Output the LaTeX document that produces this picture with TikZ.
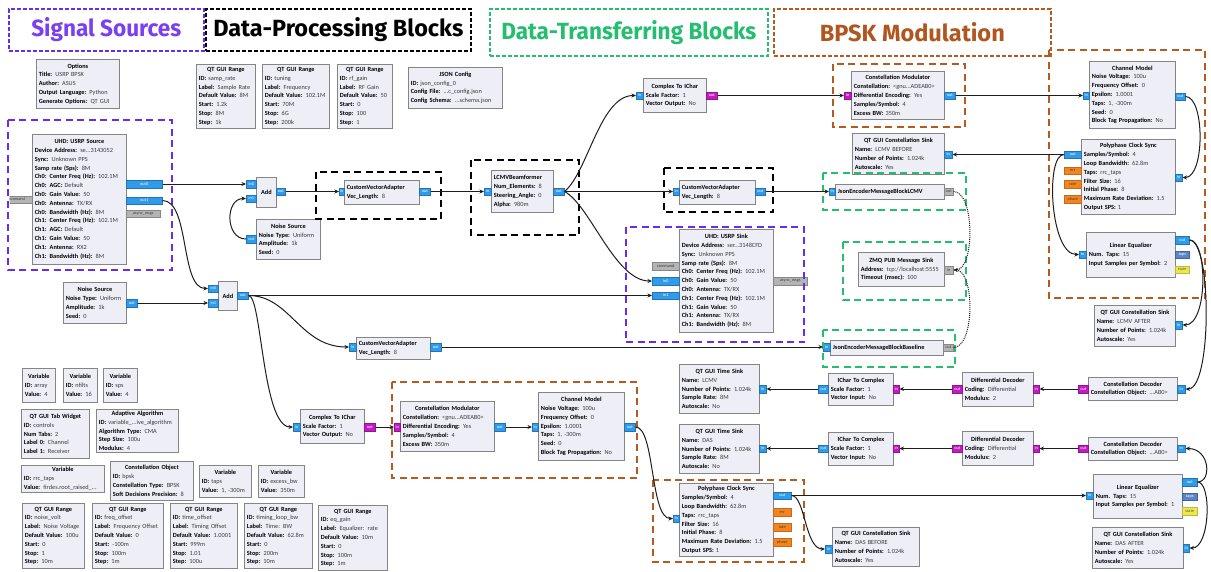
\documentclass[tikz,border=0pt]{standalone}
\usepackage{fontspec}
\usepackage{graphicx}
\setmainfont{Carlito}
\newfontfamily\legendfont{Fira Sans}
\usetikzlibrary{arrows.meta}

\definecolor{blockfill}{HTML}{EEEEF6}
\definecolor{blockedge}{HTML}{858585}
\definecolor{valtext}{HTML}{3A3A3A}
\definecolor{portblue}{HTML}{2F9BEA}
\definecolor{portmag}{HTML}{C21BC2}
\definecolor{portorange}{HTML}{F5841F}
\definecolor{portyellow}{HTML}{EDE84A}
\definecolor{portgrey}{HTML}{B4B4B4}
\definecolor{porttaps}{HTML}{5A86C5}
\definecolor{grppurple}{HTML}{6A2CEB}
\definecolor{grpgreen}{HTML}{22C06C}
\definecolor{grpbrown}{HTML}{B65A1E}
\definecolor{txtpurple}{HTML}{7B3FF2}
\definecolor{txtgreen}{HTML}{23BE6E}
\definecolor{txtbrown}{HTML}{B0561E}
\definecolor{wirecol}{HTML}{1E1E1E}

\newcommand{\blkfont}{\fontsize{6.3}{8.8}\selectfont}
\newcommand{\portfont}{\fontsize{4.3}{5}\selectfont}
\newcommand{\ttl}[1]{\makebox[\linewidth]{\bfseries #1}}
\newcommand{\kv}[2]{\mbox{\textbf{#1:} \textcolor{valtext}{#2}}}
% block: name, left x, top y, width, height, body
\newcommand{\blk}[6]{\node[blk, minimum width=#4pt, minimum height=#5pt, text width=#4pt-5pt] (#1) at (#2,#3) {#6};}
% port: name, style, left x, right x, centre y, label
\newcommand{\prt}[6]{\node[prt, #2, minimum width=#4pt-#3pt] (#1) at (#3,#5) {#6};}
% legend box: name, colour, text colour, left x, top y, width, height, text width, text
\newcommand{\lgd}[9]{\node[lgd, draw=#2, minimum width=#6pt, minimum height=#7pt] (#1) at (#4,#5) {\resizebox{#8pt}{19pt}{\legendfont\bfseries\color{#3}#9}};}

\tikzset{
  blk/.style={draw=blockedge, fill=blockfill, line width=0.8pt, anchor=north west,
    inner xsep=2.5pt, inner ysep=0pt, align=left, font=\blkfont},
  prt/.style={anchor=west, minimum height=7.5pt, inner sep=0pt, font=\portfont, line width=0.5pt},
  pblue/.style={fill=portblue, draw=portblue!75!black, text=white},
  pmag/.style={fill=portmag, draw=portmag!75!black, text=white},
  porange/.style={fill=portorange, draw=portorange!80!black, text=black!75},
  pyellow/.style={fill=portyellow, draw=portyellow!80!black, text=black!65},
  pgrey/.style={fill=portgrey, draw=portgrey!75!black, text=black!75},
  ptaps/.style={fill=porttaps, draw=porttaps!75!black, text=white},
  wire/.style={draw=wirecol, line width=1pt, -{Stealth[length=4.5pt,width=4pt]}},
  msgwire/.style={draw=wirecol, line width=1pt, densely dotted, -{Stealth[length=4pt,width=3.5pt]}},
  grp/.style={line width=2.3pt, dash pattern=on 7pt off 4.5pt},
  lgd/.style={line width=1.6pt, dash pattern=on 4pt off 2pt, anchor=north west, inner sep=0pt},
}

\begin{document}
\begin{tikzpicture}[x=1pt,y=-1pt]
\fill[white] (0,0) rectangle (1211,571);
\useasboundingbox (0,0) rectangle (1211,571);

% ---------- legend ----------
\lgd{lg-src}{grppurple}{txtpurple}{8}{8}{195}{42}{150}{Signal Sources}
\lgd{lg-proc}{black}{black}{205}{8}{265}{42}{250}{Data-Processing Blocks}
\lgd{lg-xfer}{grpgreen}{txtgreen}{489}{8}{278}{47}{255}{Data-Transferring Blocks}
\lgd{lg-bpsk}{grpbrown}{txtbrown}{773}{8}{277}{47}{185}{BPSK Modulation}

% ---------- option / variable blocks ----------
\blk{options}{36}{59}{83}{49}{\ttl{Options}\\\kv{Title}{USRP BPSK}\\\kv{Author}{ASUS}\\\kv{Output Language}{Python}\\\kv{Generate Options}{QT GUI}}
\blk{rngsamp}{196}{64}{59}{64}{\ttl{QT GUI Range}\\\kv{ID}{samp\_rate}\\\kv{Label}{Sample Rate}\\\kv{Default Value}{8M}\\\kv{Start}{1.2k}\\\kv{Stop}{8M}\\\kv{Step}{1k}}
\blk{rngtune}{262}{64}{67}{64}{\ttl{QT GUI Range}\\\kv{ID}{tuning}\\\kv{Label}{Frequency}\\\kv{Default Value}{102.1M}\\\kv{Start}{70M}\\\kv{Stop}{6G}\\\kv{Step}{200k}}
\blk{rngrf}{337}{64}{55}{64}{\ttl{QT GUI Range}\\\kv{ID}{rf\_gain}\\\kv{Label}{RF Gain}\\\kv{Default Value}{50}\\\kv{Start}{0}\\\kv{Stop}{100}\\\kv{Step}{1}}
\blk{jsoncfg}{408}{67}{94}{41}{\ttl{JSON Config}\\\kv{ID}{json\_config\_0}\\\kv{Config File}{...c\_config.json}\\\kv{Config Schema}{...schema.json}}

\blk{vararray}{22}{368}{33}{34}{\ttl{Variable}\\\kv{ID}{array}\\\kv{Value}{4}}
\blk{varnfilts}{63}{368}{34}{34}{\ttl{Variable}\\\kv{ID}{nfilts}\\\kv{Value}{16}}
\blk{varsps}{103}{368}{34}{34}{\ttl{Variable}\\\kv{ID}{sps}\\\kv{Value}{4}}
\blk{tabw}{21}{409}{68}{49}{\ttl{QT GUI Tab Widget}\\\kv{ID}{controls}\\\kv{Num Tabs}{2}\\\kv{Label 0}{Channel}\\\kv{Label 1}{Receiver}}
\blk{adapt}{96}{409}{82}{43}{\ttl{Adaptive Algorithm}\\\kv{ID}{variable\_...ive\_algorithm}\\\kv{Algorithm Type}{CMA}\\\kv{Step Size}{100u}\\\kv{Modulus}{4}}
\blk{varrrc}{21}{465}{83}{27}{\ttl{Variable}\\\kv{ID}{rrc\_taps}\\\kv{Value}{firdes.root\_raised\_...}}
\blk{constobj}{110}{461}{83}{39}{\ttl{Constellation Object}\\\kv{ID}{bpsk}\\\kv{Constellation Type}{BPSK}\\\kv{Soft Decisions Precision}{8}}
\blk{vartaps}{199}{465}{52}{32}{\ttl{Variable}\\\kv{ID}{taps}\\\kv{Value}{1, -300m}}
\blk{varebw}{258}{465}{46}{32}{\ttl{Variable}\\\kv{ID}{excess\_bw}\\\kv{Value}{350m}}
\blk{rngnoise}{22}{503}{62}{65}{\ttl{QT GUI Range}\\\kv{ID}{noise\_volt}\\\kv{Label}{Noise Voltage}\\\kv{Default Value}{100u}\\\kv{Start}{0}\\\kv{Stop}{1}\\\kv{Step}{10m}}
\blk{rngfreq}{92}{503}{71}{65}{\ttl{QT GUI Range}\\\kv{ID}{freq\_offset}\\\kv{Label}{Frequency Offset}\\\kv{Default Value}{0}\\\kv{Start}{-100m}\\\kv{Stop}{100m}\\\kv{Step}{1m}}
\blk{rngtime}{170}{503}{67}{65}{\ttl{QT GUI Range}\\\kv{ID}{time\_offset}\\\kv{Label}{Timing Offset}\\\kv{Default Value}{1.0001}\\\kv{Start}{999m}\\\kv{Stop}{1.01}\\\kv{Step}{100u}}
\blk{rngloop}{244}{503}{68}{65}{\ttl{QT GUI Range}\\\kv{ID}{timing\_loop\_bw}\\\kv{Label}{Time: BW}\\\kv{Default Value}{62.8m}\\\kv{Start}{0}\\\kv{Stop}{200m}\\\kv{Step}{10m}}
\blk{rngeq}{318}{505}{69}{65}{\ttl{QT GUI Range}\\\kv{ID}{eq\_gain}\\\kv{Label}{Equalizer: rate}\\\kv{Default Value}{10m}\\\kv{Start}{0}\\\kv{Stop}{100m}\\\kv{Step}{1m}}

% ---------- flow blocks ----------
\blk{usrpsrc}{32}{134}{94}{130}{\ttl{UHD: USRP Source}\\\kv{Device Address}{se...3143052}\\\kv{Sync}{Unknown PPS}\\\kv{Samp rate (Sps)}{8M}\\\kv{Ch0: Center Freq (Hz)}{102.1M}\\\kv{Ch0: AGC}{Default}\\\kv{Ch0: Gain Value}{50}\\\kv{Ch0: Antenna}{TX/RX}\\\kv{Ch0: Bandwidth (Hz)}{8M}\\\kv{Ch1: Center Freq (Hz)}{102.1M}\\\kv{Ch1: AGC}{Default}\\\kv{Ch1: Gain Value}{50}\\\kv{Ch1: Antenna}{RX2}\\\kv{Ch1: Bandwidth (Hz)}{8M}}
\blk{addA}{256}{177}{20}{30}{\ttl{Add}}
\blk{noiseA}{256}{219}{64}{40}{\ttl{Noise Source}\\\kv{Noise Type}{Uniform}\\\kv{Amplitude}{1k}\\\kv{Seed}{0}}
\blk{cvaA}{344}{180}{75}{24}{\textbf{CustomVectorAdapter}\\\kv{Vec\_Length}{8}}
\blk{lcmv}{491}{170}{62}{42}{\textbf{LCMVBeamformer}\\\kv{Num\_Elements}{8}\\\kv{Steering\_Angle}{0}\\\kv{Alpha}{980m}}
\blk{ctoiA}{643}{78}{63}{34}{\ttl{Complex To IChar}\\\kv{Scale Factor}{1}\\\kv{Vector Output}{No}}
\blk{cmodA}{851}{71}{93}{48}{\ttl{Constellation Modulator}\\\kv{Constellation}{<gnu...ADEAB0>}\\\kv{Differential Encoding}{Yes}\\\kv{Samples/Symbol}{4}\\\kv{Excess BW}{350m}}
\blk{chanA}{1089}{61}{86}{67}{\ttl{Channel Model}\\\kv{Noise Voltage}{100u}\\\kv{Frequency Offset}{0}\\\kv{Epsilon}{1.0001}\\\kv{Taps}{1, -300m}\\\kv{Seed}{0}\\\kv{Block Tag Propagation}{No}}
\blk{pcsA}{1081}{139}{94}{75}{\ttl{Polyphase Clock Sync}\\\kv{Samples/Symbol}{4}\\\kv{Loop Bandwidth}{62.8m}\\\kv{Taps}{rrc\_taps}\\\kv{Filter Size}{16}\\\kv{Initial Phase}{8}\\\kv{Maximum Rate Deviation}{1.5}\\\kv{Output SPS}{1}}
\blk{csinkLB}{852}{133}{92}{41}{\ttl{QT GUI Constellation Sink}\\\kv{Name}{LCMV BEFORE}\\\kv{Number of Points}{1.024k}\\\kv{Autoscale}{Yes}}
\blk{leqA}{1086}{232}{89}{45}{\ttl{Linear Equalizer}\\\kv{Num. Taps}{15}\\\kv{Input Samples per Symbol}{2}}
\blk{jsonLCMV}{835}{184}{109}{15}{\textbf{JsonEncoderMessageBlockLCMV}}
\blk{zmq}{858}{252}{86}{34}{\ttl{ZMQ PUB Message Sink}\\\kv{Address}{tcp://localhost:5555}\\\kv{Timeout (msec)}{100}}
\blk{usrpsnk}{679}{229}{94}{103}{\ttl{UHD: USRP Sink}\\\kv{Device Address}{ser...3148CFD}\\\kv{Sync}{Unknown PPS}\\\kv{Samp rate (Sps)}{8M}\\\kv{Ch0: Center Freq (Hz)}{102.1M}\\\kv{Ch0: Gain Value}{50}\\\kv{Ch0: Antenna}{TX/RX}\\\kv{Ch1: Center Freq (Hz)}{102.1M}\\\kv{Ch1: Gain Value}{50}\\\kv{Ch1: Antenna}{TX/RX}\\\kv{Ch1: Bandwidth (Hz)}{8M}}
\blk{cvaB}{679}{180}{76}{24}{\textbf{CustomVectorAdapter}\\\kv{Vec\_Length}{8}}
\blk{addB}{218}{281}{19}{29}{\ttl{Add}}
\blk{noiseB}{63}{282}{63}{41}{\ttl{Noise Source}\\\kv{Noise Type}{Uniform}\\\kv{Amplitude}{1k}\\\kv{Seed}{0}}
\blk{cvaC}{356}{337}{74}{22}{\textbf{CustomVectorAdapter}\\\kv{Vec\_Length}{8}}
\blk{jsonBase}{830}{340}{113}{15}{\textbf{JsonEncoderMessageBlockBaseline}}
\blk{ctoiB}{300}{409}{64}{34}{\ttl{Complex To IChar}\\\kv{Scale Factor}{1}\\\kv{Vector Output}{No}}
\blk{cmodB}{400}{401}{94}{50}{\ttl{Constellation Modulator}\\\kv{Constellation}{<gnu...ADEAB0>}\\\kv{Differential Encoding}{Yes}\\\kv{Samples/Symbol}{4}\\\kv{Excess BW}{350m}}
\blk{chanB}{538}{392}{86}{68}{\ttl{Channel Model}\\\kv{Noise Voltage}{100u}\\\kv{Frequency Offset}{0}\\\kv{Epsilon}{1.0001}\\\kv{Taps}{1, -300m}\\\kv{Seed}{0}\\\kv{Block Tag Propagation}{No}}
\blk{pcsB}{679}{483}{94}{73}{\ttl{Polyphase Clock Sync}\\\kv{Samples/Symbol}{4}\\\kv{Loop Bandwidth}{62.8m}\\\kv{Taps}{rrc\_taps}\\\kv{Filter Size}{16}\\\kv{Initial Phase}{8}\\\kv{Maximum Rate Deviation}{1.5}\\\kv{Output SPS}{1}}
\blk{tsinkL}{679}{364}{80}{49}{\ttl{QT GUI Time Sink}\\\kv{Name}{LCMV}\\\kv{Number of Points}{1.024k}\\\kv{Sample Rate}{8M}\\\kv{Autoscale}{No}}
\blk{itocL}{828}{373}{65}{32}{\ttl{IChar To Complex}\\\kv{Scale Factor}{1}\\\kv{Vector Input}{No}}
\blk{tsinkD}{679}{424}{80}{49}{\ttl{QT GUI Time Sink}\\\kv{Name}{DAS}\\\kv{Number of Points}{1.024k}\\\kv{Sample Rate}{8M}\\\kv{Autoscale}{No}}
\blk{itocD}{828}{432}{65}{33}{\ttl{IChar To Complex}\\\kv{Scale Factor}{1}\\\kv{Vector Input}{No}}
\blk{ddL}{962}{372}{71}{34}{\ttl{Differential Decoder}\\\kv{Coding}{Differential}\\\kv{Modulus}{2}}
\blk{cdecL}{1088}{377}{89}{23}{\ttl{Constellation Decoder}\\\kv{Constellation Object}{...AB0>}}
\blk{ddD}{962}{431}{71}{34}{\ttl{Differential Decoder}\\\kv{Coding}{Differential}\\\kv{Modulus}{2}}
\blk{cdecD}{1088}{437}{89}{23}{\ttl{Constellation Decoder}\\\kv{Constellation Object}{...AB0>}}
\blk{csinkLA}{1094}{305}{81}{41}{\ttl{QT GUI Constellation Sink}\\\kv{Name}{LCMV AFTER}\\\kv{Number of Points}{1.024k}\\\kv{Autoscale}{Yes}}
\blk{csinkDB}{832}{527}{87}{39}{\ttl{QT GUI Constellation Sink}\\\kv{Name}{DAS BEFORE}\\\kv{Number of Points}{1.024k}\\\kv{Autoscale}{Yes}}
\blk{leqB}{1093}{474}{89}{44}{\ttl{Linear Equalizer}\\\kv{Num. Taps}{15}\\\kv{Input Samples per Symbol}{1}}
\blk{csinkDA}{1092}{527}{91}{41}{\ttl{QT GUI Constellation Sink}\\\kv{Name}{DAS AFTER}\\\kv{Number of Points}{1.024k}\\\kv{Autoscale}{Yes}}

% ---------- ports ----------
\begin{scope}
  \clip (9.5,190) rectangle (40,210);
  \prt{src-cmd}{pgrey}{0}{32}{199.5}{command}
\end{scope}
\prt{src-o0}{pblue}{126}{162}{184}{out0}
\prt{src-o1}{pblue}{126}{162}{200.5}{out1}
\prt{src-async}{pgrey}{126}{160}{213.5}{async\_msgs}
\prt{addA-i0}{pblue}{246}{256}{184}{in0}
\prt{addA-i1}{pblue}{246}{256}{198.5}{in1}
\prt{addA-o}{pblue}{276}{285}{191.5}{out}
\prt{noiseA-o}{pblue}{246}{256}{239}{out}
\prt{cvaA-i}{pblue}{339}{344}{191.5}{in}
\prt{cvaA-o}{pblue}{419}{430}{191.5}{out}
\prt{lcmv-i}{pblue}{484}{491}{191.5}{in}
\prt{lcmv-o}{pblue}{553}{564}{191.5}{out}
\prt{ctoiA-i}{pblue}{636}{643}{95.5}{in}
\prt{ctoiA-o}{pmag}{706}{717}{95.5}{out}
\prt{cmodA-i}{pmag}{844}{851}{95.5}{in}
\prt{cmodA-o}{pblue}{944}{955}{95.5}{out}
\prt{chanA-i}{pblue}{1083}{1089}{95.5}{in}
\prt{chanA-o}{pblue}{1175}{1185}{96.5}{out}
\prt{pcsA-o}{pblue}{1064}{1081}{154.5}{out}
\prt{pcsA-err}{porange}{1064}{1081}{170.5}{err}
\prt{pcsA-rate}{porange}{1064}{1081}{184}{rate}
\prt{pcsA-phase}{porange}{1064}{1081}{199}{phase}
\prt{pcsA-i}{pblue}{1175}{1182}{177.5}{in}
\prt{csinkLB-i}{pblue}{944}{952}{154.5}{in}
\prt{leqA-i}{pblue}{1079}{1086}{254.5}{in}
\prt{leqA-o}{pblue}{1175}{1189}{240}{out}
\prt{leqA-taps}{ptaps}{1175}{1189}{254.5}{taps}
\prt{leqA-state}{pyellow}{1175}{1189}{269.5}{state}
\prt{jsonLCMV-i}{pblue}{829}{835}{191.5}{in}
\prt{jsonLCMV-o}{pgrey}{944}{953}{191.5}{out}
\prt{zmq-i}{pgrey}{944}{953}{270}{in}
\prt{snk-cmd}{pgrey}{652}{679}{266}{command}
\prt{snk-i0}{pblue}{652}{679}{281}{in0}
\prt{snk-i1}{pblue}{652}{679}{295.5}{in1}
\prt{snk-async}{pgrey}{773}{807}{281}{async\_msgs}
\prt{cvaB-i}{pblue}{673}{679}{191.5}{in}
\prt{cvaB-o}{pblue}{755}{765}{191.5}{out}
\prt{addB-i0}{pblue}{208}{218}{288.5}{in0}
\prt{addB-i1}{pblue}{208}{218}{303}{in1}
\prt{addB-o}{pblue}{237}{248}{295.5}{out}
\prt{noiseB-o}{pblue}{126}{137}{303}{out}
\prt{cvaC-i}{pblue}{349}{356}{347}{in}
\prt{cvaC-o}{pblue}{430}{441}{347}{out}
\prt{jsonBase-i}{pblue}{823}{830}{347}{in}
\prt{jsonBase-o}{pgrey}{943}{953}{347.5}{out}
\prt{ctoiB-i}{pblue}{293}{300}{427}{in}
\prt{ctoiB-o}{pmag}{364}{375}{427}{out}
\prt{cmodB-i}{pmag}{394}{400}{427}{in}
\prt{cmodB-o}{pblue}{494}{505}{427}{out}
\prt{chanB-i}{pblue}{532}{538}{427}{in}
\prt{chanB-o}{pblue}{624}{635}{427}{out}
\prt{pcsB-i}{pblue}{673}{679}{518.5}{in}
\prt{pcsB-o}{pblue}{773}{791}{495.5}{out}
\prt{pcsB-err}{porange}{773}{791}{512}{err}
\prt{pcsB-rate}{porange}{773}{791}{527}{rate}
\prt{pcsB-phase}{porange}{773}{791}{542}{phase}
\prt{tsinkL-i}{pblue}{759}{766}{389}{in}
\prt{itocL-o}{pblue}{818}{828}{389}{out}
\prt{itocL-i}{pmag}{893}{899}{389}{in}
\prt{tsinkD-i}{pblue}{759}{766}{448.5}{in}
\prt{itocD-o}{pblue}{818}{828}{448.5}{out}
\prt{itocD-i}{pmag}{893}{899}{448.5}{in}
\prt{ddL-o}{pmag}{952}{962}{389}{out}
\prt{ddL-i}{pmag}{1033}{1039}{389}{in}
\prt{cdecL-o}{pmag}{1078}{1088}{389}{out}
\prt{cdecL-i}{pblue}{1177}{1185}{389}{in}
\prt{ddD-o}{pmag}{952}{962}{448.5}{out}
\prt{ddD-i}{pmag}{1033}{1039}{448.5}{in}
\prt{cdecD-o}{pmag}{1078}{1088}{448.5}{out}
\prt{cdecD-i}{pblue}{1177}{1185}{448.5}{in}
\prt{csinkLA-i}{pblue}{1175}{1182}{325}{in}
\prt{csinkDB-i}{pblue}{825}{832}{549}{in}
\prt{leqB-i}{pblue}{1086}{1093}{495.5}{in}
\prt{leqB-o}{pblue}{1182}{1197}{482}{out}
\prt{leqB-taps}{ptaps}{1182}{1197}{496.5}{taps}
\prt{leqB-state}{pyellow}{1182}{1197}{511}{state}
\prt{csinkDA-i}{pblue}{1183}{1189}{548}{in}

% ---------- group frames ----------
\draw[grp, grppurple] (8,120) rectangle (172,270);
\draw[grp, grppurple] (626,227) rectangle (804,342);
\draw[grp, black] (316,172) rectangle (441,219);
\draw[grp, black] (471,160) rectangle (579,235);
\draw[grp, black] (664,168) rectangle (773,212);
\draw[grp, grpgreen] (823,173) rectangle (966,210);
\draw[grp, grpgreen] (843,242) rectangle (966,300);
\draw[grp, grpgreen] (823,330) rectangle (955,367);
\draw[grp, grpbrown] (833,64) rectangle (965,127);
\draw[grp, grpbrown] (1049,50) rectangle (1205,298);
\draw[grp, grpbrown] (392,382) rectangle (637,478);
\draw[grp, grpbrown] (653,480) rectangle (804,562);

% ---------- connections ----------
\draw[wire] (src-o0.east) -- (addA-i0.west);
\draw[wire] (src-o1.east) .. controls (190,200.5) and (180,288.5) .. (addB-i0.west);
\draw[wire] (noiseA-o.west) .. controls (225,239) and (225,198.5) .. (addA-i1.west);
\draw[wire] (addA-o.east) -- (cvaA-i.west);
\draw[wire] (cvaA-o.east) -- (lcmv-i.west);
\draw[wire] (lcmv-o.east) .. controls (588,172) and (600,95.5) .. (ctoiA-i.west);
\draw[wire] (lcmv-o.east) -- (cvaB-i.west);
\draw[wire] (lcmv-o.east) .. controls (590,205) and (615,281) .. (snk-i0.west);
\draw[wire] (ctoiA-o.east) -- (cmodA-i.west);
\draw[wire] (cmodA-o.east) -- (chanA-i.west);
\draw[wire] (chanA-o.east) .. controls (1205,96.5) and (1205,177.5) .. (pcsA-i.east);
\draw[wire] (pcsA-o.west) -- (csinkLB-i.east);
\draw[wire] (pcsA-o.west) .. controls (1045,154.5) and (1050,254.5) .. (leqA-i.west);
\draw[wire] (leqA-o.east) .. controls (1208,240) and (1208,325) .. (csinkLA-i.east);
\draw[wire] (leqA-o.east) .. controls (1212,240) and (1212,389) .. (cdecL-i.east);
\draw[wire] (cdecL-o.west) -- (ddL-i.east);
\draw[wire] (ddL-o.west) -- (itocL-i.east);
\draw[wire] (itocL-o.west) -- (tsinkL-i.east);
\draw[wire] (cdecD-o.west) -- (ddD-i.east);
\draw[wire] (ddD-o.west) -- (itocD-i.east);
\draw[wire] (itocD-o.west) -- (tsinkD-i.east);
\draw[wire] (cvaB-o.east) -- (jsonLCMV-i.west);
\draw[msgwire] (jsonLCMV-o.east) .. controls (975,191.5) and (975,270) .. (zmq-i.east);
\draw[msgwire] (jsonBase-o.east) .. controls (975,347.5) and (975,270) .. (zmq-i.east);
\draw[wire] (noiseB-o.east) -- (addB-i1.west);
\draw[wire] (addB-o.east) -- (snk-i1.west);
\draw[wire] (addB-o.east) .. controls (290,295.5) and (300,347) .. (cvaC-i.west);
\draw[wire] (addB-o.east) .. controls (262,295.5) and (262,427) .. (ctoiB-i.west);
\draw[wire] (cvaC-o.east) -- (jsonBase-i.west);
\draw[wire] (ctoiB-o.east) -- (cmodB-i.west);
\draw[wire] (cmodB-o.east) -- (chanB-i.west);
\draw[wire] (chanB-o.east) .. controls (655,427) and (650,518.5) .. (pcsB-i.west);
\draw[wire] (pcsB-o.east) -- (leqB-i.west);
\draw[wire] (pcsB-o.east) .. controls (805,495.5) and (805,549) .. (csinkDB-i.west);
\draw[wire] (leqB-o.east) .. controls (1212,482) and (1210,448.5) .. (cdecD-i.east);
\draw[wire] (leqB-o.east) .. controls (1212,482) and (1210,548) .. (csinkDA-i.east);
\end{tikzpicture}
\end{document}
